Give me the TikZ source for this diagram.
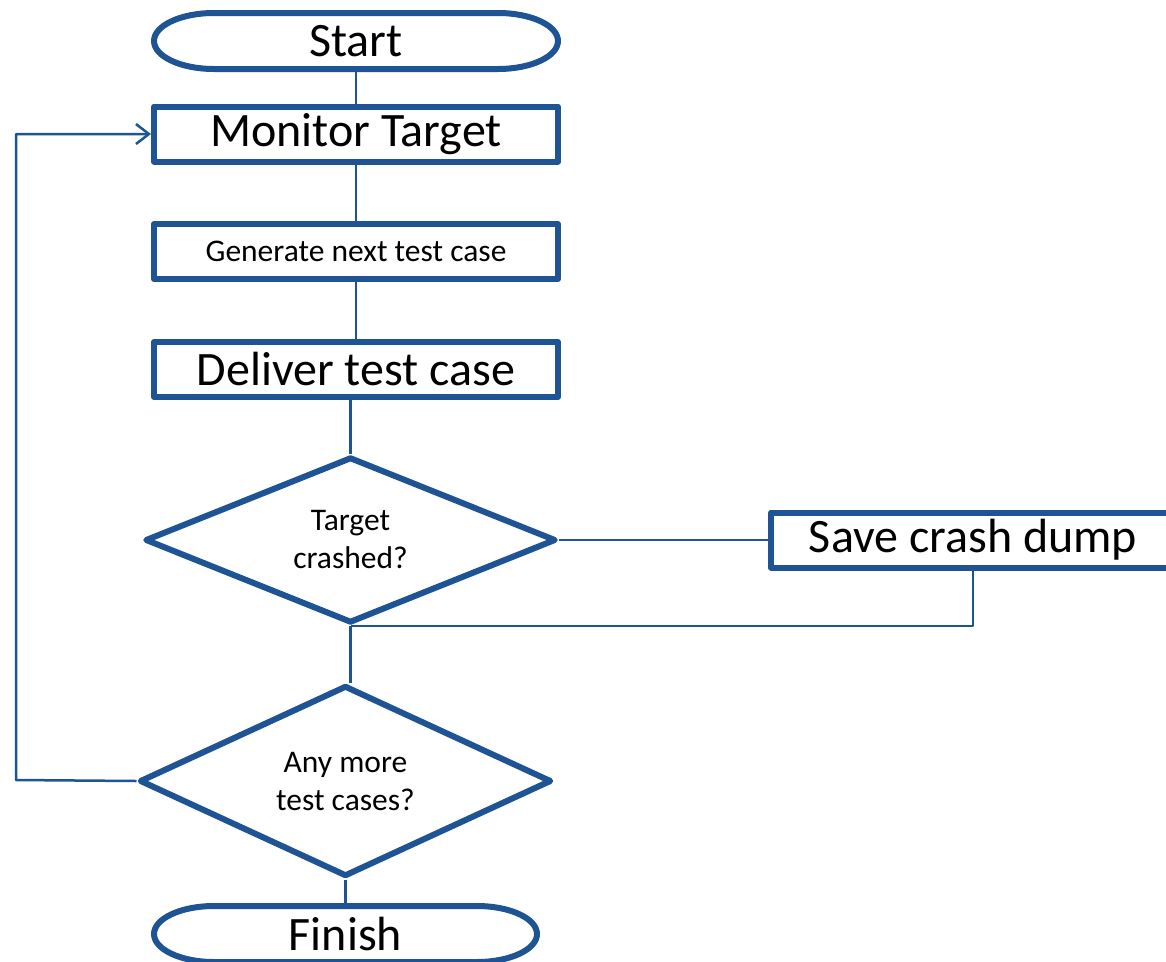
\documentclass[tikz,border=0pt]{standalone}
\usepackage{fontspec}
\setmainfont{Carlito}
\usetikzlibrary{shapes.geometric,arrows.meta,calc}
\definecolor{flowblue}{RGB}{30,84,148}
\newcommand\largetxt{\fontsize{48}{57}\selectfont}
\newcommand\smalltxt{\fontsize{31.5}{38}\selectfont}
\begin{document}
\begin{tikzpicture}[x=1pt,y=-1pt,
  line join=round,
  stepbox/.style={draw=flowblue, line width=6pt, fill=white, inner sep=0pt,
    minimum width=404pt, minimum height=55pt, font=\largetxt},
  smallbox/.style={stepbox, font=\smalltxt},
  decision/.style={diamond, draw=flowblue, line width=6pt, fill=white,
    inner sep=0pt, aspect=2.5, align=center, font=\smalltxt},
  termtext/.style={inner sep=0pt, minimum height=56pt, font=\largetxt},
  termline/.style={draw=flowblue, line width=6pt},
  conn/.style={draw=flowblue, line width=2.5pt},
]
\useasboundingbox[fill=white] (0,0) rectangle (1166,961);

% terminators
\node[termtext, minimum width=404pt] (start) at (356,41) {Start};
\path[termline] ($(start.center)+(-142,-28)$) -- ++(284,0)
  arc[start angle=90, end angle=-90, x radius=60pt, y radius=28pt]
  -- ++(-284,0)
  arc[start angle=270, end angle=90, x radius=60pt, y radius=28pt] -- cycle;

\node[termtext, minimum width=383pt] (fin) at (345.5,934) {Finish};
\path[termline] ($(fin.center)+(-131.5,-28)$) -- ++(263,0)
  arc[start angle=90, end angle=-90, x radius=60pt, y radius=28pt]
  -- ++(-263,0)
  arc[start angle=270, end angle=90, x radius=60pt, y radius=28pt] -- cycle;

% process steps
\node[stepbox]  (mon)  at (356,134)   {Monitor Target};
\node[smallbox] (gen)  at (356,251.5) {Generate next test case};
\node[stepbox]  (del)  at (356,369.5) {Deliver test case};
\node[stepbox]  (save) at (973,540)   {Save crash dump};

% decisions
\node[decision, minimum width=411pt, minimum height=166pt] (crash) at (350.5,540)
  {Target\\crashed?};
\node[decision, minimum width=412pt, minimum height=191pt] (more) at (345.5,781)
  {Any more\\test cases?};

% connectors
\coordinate (loop) at (16,780);
\draw[conn] (start.south) -- (mon.north);
\draw[conn] (mon.south) -- (gen.north);
\draw[conn] (gen.south) -- (del.north);
\draw[conn] (crash.north |- del.south) -- (crash.north);
\draw[conn] (crash.east) -- (save.west);
\draw[conn] (save.south) |- (crash.south);
\draw[conn] (crash.south) -- (crash.south |- more.north);
\draw[conn, -{Straight Barb[length=13pt,width=20pt]}] (more.west) -- (loop) |- (mon.west);
\draw[conn] (more.south) -- (fin.north);
\end{tikzpicture}
\end{document}
